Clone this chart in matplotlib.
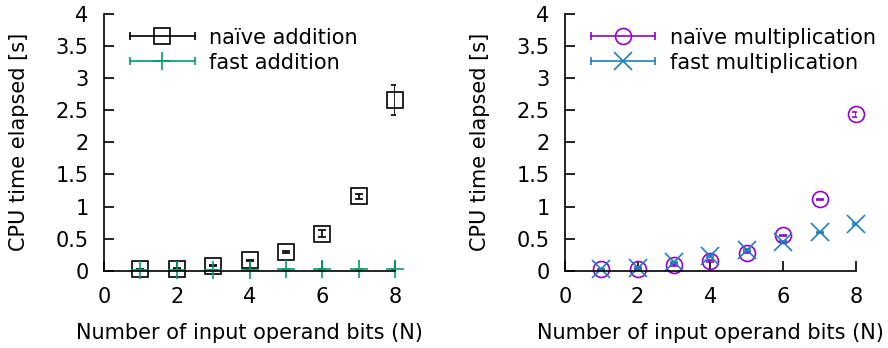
import matplotlib
matplotlib.use("Agg")
import matplotlib.pyplot as plt
from matplotlib.legend_handler import HandlerBase
from matplotlib.lines import Line2D
from matplotlib.ticker import FormatStrFormatter, MultipleLocator

bits = [1, 2, 3, 4, 5, 6, 7, 8]

naive_add = [0.02, 0.03, 0.08, 0.16, 0.29, 0.58, 1.16, 2.66]
naive_add_err = [0.005, 0.005, 0.01, 0.01, 0.015, 0.05, 0.04, 0.23]
fast_add = [0.01, 0.01, 0.01, 0.01, 0.02, 0.02, 0.02, 0.02]
fast_add_err = [0.002, 0.002, 0.002, 0.002, 0.002, 0.002, 0.002, 0.002]

naive_mul = [0.02, 0.03, 0.09, 0.15, 0.28, 0.55, 1.11, 2.44]
naive_mul_err = [0.005, 0.005, 0.01, 0.01, 0.01, 0.01, 0.01, 0.04]
fast_mul = [0.02, 0.05, 0.13, 0.23, 0.33, 0.45, 0.60, 0.73]
fast_mul_err = [0.005, 0.005, 0.01, 0.01, 0.01, 0.01, 0.01, 0.01]

BLACK = "black"
GREEN = "#009e73"
PURPLE = "#9400d3"
BLUE = "#1f7fbf"

FS = 15
plt.rcParams["font.family"] = "DejaVu Sans"
plt.rcParams["font.size"] = FS


class ErrHandler(HandlerBase):
    # gnuplot-like key: horizontal bar with end caps, marker in the middle
    def __init__(self, color, marker, ms):
        super().__init__()
        self.color = color
        self.marker = marker
        self.ms = ms

    def create_artists(self, legend, orig_handle, xdescent, ydescent,
                       width, height, fontsize, trans):
        y = height / 2 - ydescent
        x0, x1 = -xdescent, width - xdescent
        line = Line2D([x0, x1], [y, y], color=self.color, lw=1.2, transform=trans)
        caps = Line2D([x0, x1], [y, y], color=self.color, ls="none",
                      marker="|", ms=6, mew=1.2, transform=trans)
        mk = Line2D([(x0 + x1) / 2], [y], color=self.color, ls="none",
                    marker=self.marker, ms=self.ms, mfc="none", mew=1.2,
                    transform=trans)
        return [line, caps, mk]


def draw_series(ax, y, err, color, marker, ms, label):
    line, caps, bars = ax.errorbar(bits, y, yerr=err, color=color, ls="none",
                                   marker=marker, ms=ms, mfc="none", mew=1.2,
                                   capsize=3, elinewidth=1.2, capthick=1.2,
                                   label=label)
    line.set_clip_on(False)
    return line


def style_axes(ax):
    ax.set_xlim(0, 8)
    ax.set_ylim(0, 4)
    ax.xaxis.set_major_locator(MultipleLocator(2))
    ax.yaxis.set_major_locator(MultipleLocator(0.5))
    ax.yaxis.set_major_formatter(FormatStrFormatter("%g"))
    ax.spines["top"].set_visible(False)
    ax.spines["right"].set_visible(False)
    ax.spines["left"].set_linewidth(1.2)
    ax.spines["bottom"].set_linewidth(1.2)
    ax.tick_params(direction="in", length=7, width=1.2, labelsize=FS)
    ax.tick_params(axis="x", pad=11.5)
    ax.tick_params(axis="y", pad=11)
    ax.set_xlabel("Number of input operand bits (N)", labelpad=12)
    ax.set_ylabel("CPU time elapsed [s]", labelpad=19)


fig = plt.figure(figsize=(8.88, 3.48), dpi=100)
ax1 = fig.add_axes([0.117, 0.222, 0.328, 0.738])
ax2 = fig.add_axes([0.636, 0.222, 0.328, 0.738])

h1 = draw_series(ax1, naive_add, naive_add_err, BLACK, "s", 11.5, "naïve addition")
h2 = draw_series(ax1, fast_add, fast_add_err, GREEN, "+", 13, "fast addition")
h3 = draw_series(ax2, naive_mul, naive_mul_err, PURPLE, "o", 11.5, "naïve multiplication")
h4 = draw_series(ax2, fast_mul, fast_mul_err, BLUE, "x", 13, "fast multiplication")

for ax in (ax1, ax2):
    style_axes(ax)

legend_opts = dict(loc="upper left", bbox_to_anchor=(26 / 291, 0.947), frameon=False,
                   borderaxespad=0, borderpad=0, handlelength=3.1,
                   handletextpad=0.7, labelspacing=0.25, fontsize=FS)
ax1.legend([h1, h2], ["naïve addition", "fast addition"],
           handler_map={h1: ErrHandler(BLACK, "s", 11.5), h2: ErrHandler(GREEN, "+", 13)},
           **legend_opts)
ax2.legend([h3, h4], ["naïve multiplication", "fast multiplication"],
           handler_map={h3: ErrHandler(PURPLE, "o", 11.5), h4: ErrHandler(BLUE, "x", 13)},
           **legend_opts)

fig.savefig("out.png", dpi=100)
